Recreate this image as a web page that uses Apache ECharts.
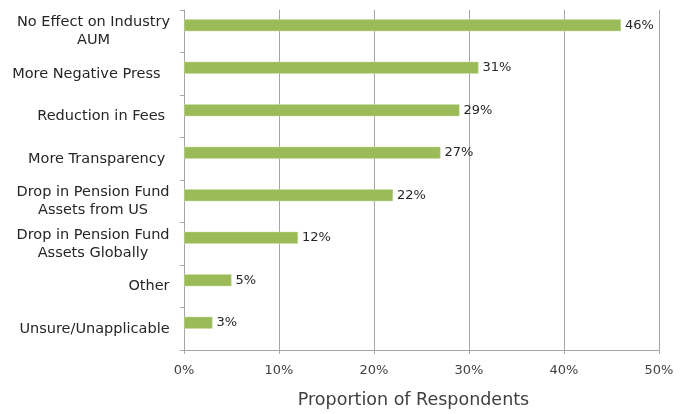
<!DOCTYPE html>
<html>
<head>
<meta charset="utf-8">
<script src="https://cdn.jsdelivr.net/npm/echarts@6/dist/echarts.min.js"></script>
<style>
  html, body { margin: 0; padding: 0; background: #fff; }
  #chart { width: 689px; height: 414px; }
</style>
</head>
<body>
<div id="chart"></div>
<script>
// Survey responses, listed top to bottom as displayed
const categories = [
  'No Effect on Industry\nAUM',
  'More Negative Press  ',
  'Reduction in Fees ',
  'More Transparency ',
  'Drop in Pension Fund\nAssets from US',
  'Drop in Pension Fund\nAssets Globally',
  'Other',
  'Unsure/Unapplicable'
];
const shares = [46, 31, 29, 27, 22, 12, 5, 3];
// Second, empty response slot of each category group (keeps bars in the upper half of each band)
const emptySlot = [null, null, null, null, null, null, null, null];
const xTicks = [0, 10, 20, 30, 40, 50];

const FONT = 'DejaVu Sans';
const CAT_SIZE = 14.5;

// Measure label lines so wrapped labels can be centred within their own block
const measureCtx = document.createElement('canvas').getContext('2d');
measureCtx.font = CAT_SIZE + 'px "' + FONT + '"';
const catRich = {};
categories.forEach(function (c, i) {
  const w = Math.max.apply(null, c.split('\n').map(function (s) {
    return Math.ceil(measureCtx.measureText(s).width);
  }));
  catRich['c' + i] = {
    width: w,
    align: 'center',
    fontSize: CAT_SIZE,
    lineHeight: 18,
    color: '#262626',
    fontFamily: FONT
  };
});

const chart = echarts.init(document.getElementById('chart'));

chart.setOption({
  animation: false,
  textStyle: { fontFamily: FONT },
  grid: { left: 184, right: 30, top: 10, bottom: 60, containLabel: false },
  xAxis: {
    type: 'value',
    min: xTicks[0],
    max: xTicks[xTicks.length - 1],
    interval: 10,
    name: 'Proportion of Respondents',
    nameLocation: 'middle',
    nameGap: 41,
    nameTextStyle: { fontSize: 17.5, color: '#404040', fontFamily: FONT, padding: [0, 16, 0, 0] },
    axisLine: { show: true, lineStyle: { color: '#a6a6a6', width: 1 } },
    axisTick: { show: true, length: 4, lineStyle: { color: '#a6a6a6' } },
    axisLabel: { formatter: '{value}%', fontSize: 13, color: '#404040', margin: 14, fontFamily: FONT },
    splitLine: { show: true, lineStyle: { color: '#a6a6a6', width: 1 } }
  },
  yAxis: {
    type: 'category',
    inverse: true,
    data: categories,
    axisLine: { show: true, lineStyle: { color: '#a6a6a6', width: 1 } },
    axisTick: { show: true, length: 4, alignWithLabel: false, lineStyle: { color: '#a6a6a6' } },
    axisLabel: {
      margin: 14,
      align: 'right',
      fontSize: CAT_SIZE,
      lineHeight: 18,
      color: '#262626',
      fontFamily: FONT,
      formatter: function (value, idx) {
        return value.split('\n').map(function (s) { return '{c' + idx + '|' + s + '}'; }).join('\n');
      },
      rich: catRich
    }
  },
  series: [{
    type: 'bar',
    data: shares,
    barWidth: 12,
    barGap: '0%',
    itemStyle: { color: '#9bbb59', borderColor: '#c9dca6', borderWidth: 0.5 },
    label: {
      show: true,
      position: 'right',
      distance: 4,
      formatter: '{c}%',
      fontSize: 13,
      color: '#262626',
      fontFamily: FONT
    }
  }, {
    type: 'bar',
    data: emptySlot,
    barWidth: 12,
    barGap: '0%',
    silent: true
  }]
});
</script>
</body>
</html>
